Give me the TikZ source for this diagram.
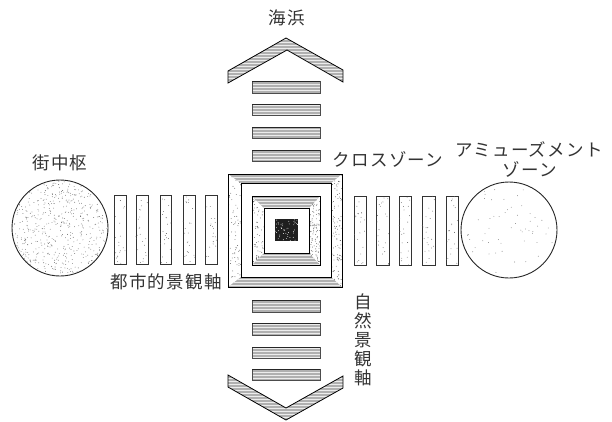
\documentclass[tikz,border=0pt]{standalone}
\usepackage{fontspec}
\newfontfamily\jpfont[LetterSpace=7]{Noto Sans CJK JP}
\newcommand{\stip}[6]{% x0 y0 x1 y1 count colour
  \foreach \k in {1,...,#5}{
    \pgfmathsetmacro{\dx}{#1+rnd*(#3-#1)}
    \pgfmathsetmacro{\dy}{#2+rnd*(#4-#2)}
    \fill[#6] (\dx,\dy) circle (0.42);
  }}
\newcommand{\hl}[4]{% horizontal texture over x0 y0 x1 y1, to be used inside a clip
  \fill[tone] (#1,#2) rectangle (#3,#4);
  \foreach \yy in {#2,...,#4}{
    \pgfmathparse{int(mod(\yy,3))}
    \ifnum\pgfmathresult=0 \draw[streak] (#1,\yy+.5) -- (#3,\yy+.5);\fi
  }}
\newcommand{\barv}[4]{%
  \draw[barline] (#1,#2) rectangle (#3,#4);
  \stip{#1}{#2}{#3}{#4}{22}{black!65}}
\newcommand{\barh}[4]{%
  \begin{scope}\clip (#1,#2) rectangle (#3,#4); \hl{#1}{#2}{#3}{#4}\end{scope}
  \draw[black!70, line width=.6pt] (#1,#2) rectangle (#3,#4);
  \draw[black!85, line width=1pt] (#1,#2) -- (#3,#2);}
\newcommand{\bevel}[8]{% outer x0 y0 x1 y1, inner x0 y0 x1 y1
  \begin{scope}
    \clip (#1,#2) -- (#3,#2) -- (#7,#6) -- (#5,#6) -- cycle;
    \hl{#1}{#2}{#3}{#6}
  \end{scope}
  \begin{scope}
    \clip (#1,#4) -- (#3,#4) -- (#7,#8) -- (#5,#8) -- cycle;
    \hl{#1}{#8}{#3}{#4}
  \end{scope}
  \begin{scope}
    \clip (#1,#2) -- (#5,#6) -- (#5,#8) -- (#1,#4) -- cycle;
    \stip{#1}{#2}{#5}{#4}{70}{black!70}
  \end{scope}
  \begin{scope}
    \clip (#3,#2) -- (#7,#6) -- (#7,#8) -- (#3,#4) -- cycle;
    \stip{#7}{#2}{#3}{#4}{110}{black!70}
  \end{scope}
  \draw[black, line width=.9pt] (#1,#2) rectangle (#3,#4);
  \draw[black, line width=.8pt] (#5,#6) rectangle (#7,#8);}
\tikzset{
  lbl/.style={inner sep=0pt, font=\fontsize{17.5}{19}\selectfont\jpfont, text=black!80},
  barline/.style={draw=black!80, line width=.8pt},
  ring/.style={draw=black!85, line width=.9pt},
  chev/.style={draw=black, line width=.8pt, line join=miter},
  tone/.style={fill=gray!62},
  streak/.style={draw=white!85!gray, line width=.6pt}
}
\begin{document}
\begin{tikzpicture}[x=1pt,y=-1pt]
\useasboundingbox (0,0) rectangle (612,421);
\pgfmathsetseed{7}
% circles
\draw[ring] (60,228) circle (48);
\begin{scope}\clip (60,228) circle (47);
  \stip{12}{180}{108}{276}{620}{black!60}
\end{scope}
\draw[ring] (509,230) circle (48);
\begin{scope}\clip (509,230) circle (46);
  \stip{461}{182}{557}{278}{80}{black!60}
\end{scope}
% left and right bars
\barv{114}{195}{126}{264}
\barv{136}{195}{148}{264}
\barv{160}{195}{171}{264}
\barv{183}{195}{195}{264}
\barv{205}{195}{217}{264}
\barv{354}{196}{366}{265}
\barv{376}{196}{389}{265}
\barv{399}{196}{411}{265}
\barv{422}{196}{435}{265}
\barv{446}{196}{458}{265}
% top and bottom bars
\barh{252}{81}{320}{93}
\barh{252}{104}{320}{115}
\barh{252}{127}{320}{138}
\barh{252}{150}{320}{161}
\barh{252}{300}{320}{312}
\barh{252}{323}{320}{335}
\barh{252}{347}{320}{358}
\barh{252}{369}{320}{380}
% chevrons
\begin{scope}
  \clip (228,71) -- (286,38) -- (343,70) -- (343,82) -- (287,50) -- (228,83) -- cycle;
  \hl{228}{38}{343}{83}
\end{scope}
\draw[chev] (228,71) -- (286,38) -- (343,70) -- (343,82) -- (287,50) -- (228,83) -- cycle;
\begin{scope}
  \clip (228,375) -- (286,408) -- (343,376) -- (343,388) -- (286,420) -- (228,387) -- cycle;
  \hl{228}{375}{343}{420}
\end{scope}
\draw[chev] (228,375) -- (286,408) -- (343,376) -- (343,388) -- (286,420) -- (228,387) -- cycle;
% central square
\bevel{228}{174}{342}{287}{241}{183}{331}{277}
\bevel{252}{196}{320}{265}{264}{208}{309}{253}
\fill[black!88] (275,219) rectangle (298,241);
\stip{275}{219}{298}{241}{45}{white}
% labels
\node[lbl] (sea) at (287,18) {海浜};
\node[lbl] (centre) at (60,163) {街中枢};
\node[lbl] (urban) at (166,282) {都市的景観軸};
\node[lbl] (cross) at (388,159) {クロスゾーン};
\node[lbl] (amuse) at (529,149) {アミューズメント};
\node[lbl] (zone) at (530,169) {ゾーン};
\node[lbl, align=center] (nature) at (363,340) {自\\然\\景\\観\\軸};
\end{tikzpicture}
\end{document}
